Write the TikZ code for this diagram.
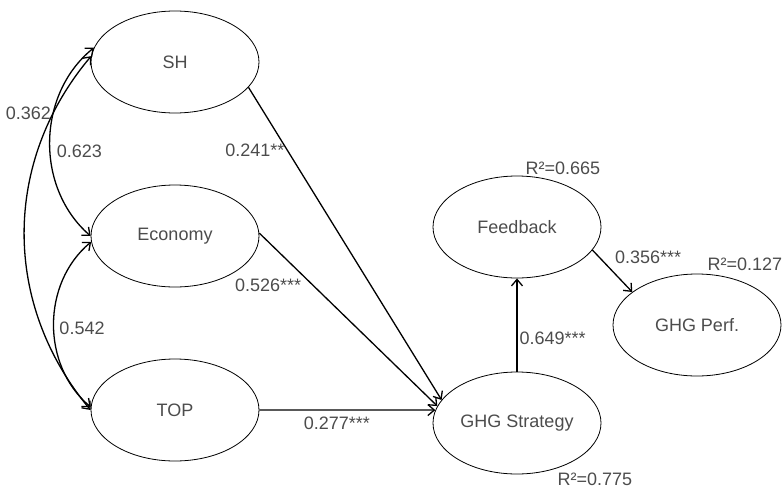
\documentclass[tikz,border=0pt]{standalone}
\usepackage{fontspec}
\setmainfont{Liberation Sans}
\usetikzlibrary{shapes.geometric,arrows.meta,positioning}
\tikzset{latent/.style={draw,shape=ellipse,minimum width=168pt,minimum height=102pt,inner sep=0pt,line width=0.8pt,text=black!70}}
\tikzset{coef/.style={text=black!70,inner sep=2pt}}
\tikzset{rsq/.style={text=black!70,inner sep=1pt}}

\begin{document}
\begin{tikzpicture}[x=1pt, y=-1pt, line width=1.3pt, >={Straight Barb[length=6.5pt,width=11pt]}, font=\fontsize{18}{21}\selectfont]
    \useasboundingbox (0,0) rectangle (784,490);

    \node [latent] (sh) at (175,62) {SH};
    \node [latent] (eco) at (175,236) {Economy};
    \node [latent] (top) at (175,410) {TOP};
    \node [latent] (strat) at (517,423) {GHG Strategy};
    \node [latent] (fb) at (517,227) {Feedback};
    \node [latent] (perf) at (697,325) {GHG Perf.};

    % correlations
    \draw [<->] (sh.170) to [bend right=50] node [coef, pos=0.55, right=4pt] {0.623} (eco.west);
    \draw [<->] (sh.176) to [bend right=40] node [coef, pos=0.17, left] {0.362} (top.west);
    \draw [<->] (eco.184) to [bend right=50] node [coef, pos=0.52, right=3pt] {0.542} (top.178);

    % paths
    \draw [->] (sh.-19) -- node [coef, pos=0.2, left] {0.241**} (strat.163);
    \draw [->] (eco.2) -- node [coef, pos=0.25, below left] {0.526***} (strat.168);
    \draw [->] (top.east) -- node [coef, pos=0.44, below=4pt] {0.277***} (strat.171);
    \draw [->] (strat.north) -- node [coef, pos=0.36, right] {0.649***} (fb.south);
    \draw [->] (fb.-17) -- node [coef, pos=0.25, anchor=south west, xshift=10pt, yshift=-6pt] {0.356***} (perf.153);

    \node [rsq, above right=-1pt and 7pt of fb.north] (r2fb) {R²=0.665};
    \node [rsq, above right=1pt and 9pt of perf.north] (r2perf) {R²=0.127};
    \node [rsq, below right=-3pt and 39pt of strat.south] (r2strat) {R²=0.775};
\end{tikzpicture}
\end{document}
